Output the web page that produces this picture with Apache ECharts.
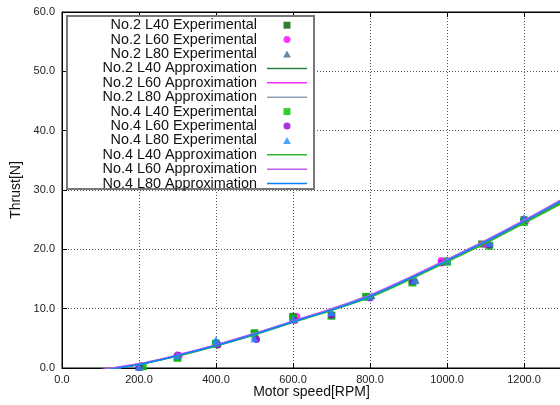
<!DOCTYPE html>
<html lang="en" style="background: #FFFFFF;height: 100%">
	<head>
		<meta charset="utf-8" />
		<title></title>
		<script type="text/javascript" src="https://cdn.jsdelivr.net/npm/echarts@6/dist/echarts.min.js"></script>
	</head>
	<style>
		html,body {
			margin: 0;
			padding: 0;
		}
		body {
			overflow: hidden;
		}
	</style>
	<body style="height: 100%;">
		<div id="chart" style="width: 560px;height: 405px"></div>
		<script>
			// 实验点 [rpm, N]
			var no2L40Exp = [[200,0.2],[300,1.8],[400,4.2],[500,5.9],[600,8.7],[700,8.9],[790,12.0],[910,14.5],[1000,18.0],[1090,20.9],[1200,25.0]];
			var no2L60Exp = [[205,0.1],[305,2.1],[405,3.9],[505,4.9],[610,8.7],[700,8.8],[800,11.8],[915,14.6],[985,18.1],[1100,20.8],[1205,24.8]];
			var no2L80Exp = [[210,0.3],[300,2.0],[400,4.5],[500,5.3],[600,8.3],[700,9.3],[805,12.2],[920,14.8],[1000,18.3],[1110,20.9],[1200,25.2]];
			var no4L40Exp = [[210,0.3],[300,1.7],[400,4.0],[500,5.8],[600,8.4],[700,8.8],[790,12.0],[910,14.4],[1000,17.9],[1110,20.6],[1200,24.6]];
			var no4L60Exp = [[200,0.1],[300,2.2],[405,3.9],[505,4.8],[605,8.0],[700,8.9],[800,11.9],[910,14.6],[985,17.7],[1110,20.7],[1200,24.8]];
			var no4L80Exp = [[200,0.2],[300,2.1],[400,4.7],[500,5.0],[600,8.3],[700,9.4],[800,12.1],[915,14.8],[1000,18.1],[1110,21.1],[1200,25.3]];

			// 近似曲线
			var approxRpm = [100,200,300,400,500,600,700,800,900,1000,1100,1200,1300];
			var no2L40Approx = [-0.4,0.6,2.1,3.8,5.7,7.8,9.8,12.0,14.9,18.0,21.1,24.5,28.0];
			var no2L60Approx = [-0.3,0.7,2.2,3.9,5.8,7.9,9.9,12.2,15.1,18.2,21.4,24.8,28.4];
			var no2L80Approx = [-0.4,0.6,2.0,3.7,5.6,7.7,9.8,12.1,15.0,18.1,21.3,24.7,28.3];
			var no4L40Approx = [-0.4,0.6,2.0,3.7,5.6,7.7,9.7,11.9,14.8,17.9,21.0,24.4,27.8];
			var no4L60Approx = [-0.3,0.7,2.2,3.9,5.8,7.9,10.0,12.3,15.2,18.3,21.5,24.9,28.5];
			var no4L80Approx = [-0.4,0.6,2.1,3.8,5.7,7.8,9.8,12.1,15.0,18.1,21.3,24.7,28.3];

			var xTicks = [0,200,400,600,800,1000,1200];
			var yTicks = [0,10,20,30,40,50,60];

			// 图例图标 (path 保持比例)
			var iconSquare = 'path://M0,0h10v10h-10z';
			var iconCircle = 'path://M5,0A5,5,0,1,1,4.99,0z';
			var iconTriangle = 'path://M5,0L10,9L0,9z';
			var iconLine = 'path://M0,0h40v1.5h-40z';

			function pairs(ys){
				var out = [];
				for(var i = 0 ; i < approxRpm.length;i++){
					out.push([approxRpm[i], ys[i]]);
				}
				return out;
			}

			function expSeries(name, data, symbol, color, size){
				return {
					name: name, type: 'scatter', data: data,
					symbol: symbol, symbolSize: size,
					itemStyle: { color: color }
				};
			}

			function lineSeries(name, ys, color){
				return {
					name: name, type: 'line', data: pairs(ys),
					symbol: 'none', smooth: 0.3, clip: true,
					lineStyle: { color: color, width: 1.5 },
					itemStyle: { color: color }
				};
			}

			var font = 'Liberation Sans, Arial, sans-serif';
			var chart = echarts.init(document.getElementById('chart'));

			chart.setOption({
				animation: false,
				grid: {
					left: 62, top: 12, right: -41, bottom: 37,
					outerBoundsMode: 'none',
					show: true, borderColor: '#000', borderWidth: 1
				},
				legend: {
					orient: 'vertical', align: 'right',
					right: 253, top: 18, padding: 0,
					itemWidth: 40, itemHeight: 7, itemGap: 0,
					textStyle: { fontFamily: font, fontSize: 14.4, color: '#111', lineHeight: 14.4, padding: [0, 5, 0, 0] },
					data: [
						{ name: 'No.2 L40 Experimental', icon: iconSquare },
						{ name: 'No.2 L60 Experimental', icon: iconCircle },
						{ name: 'No.2 L80 Experimental', icon: iconTriangle },
						{ name: 'No.2 L40 Approximation', icon: iconLine },
						{ name: 'No.2 L60 Approximation', icon: iconLine },
						{ name: 'No.2 L80 Approximation', icon: iconLine },
						{ name: 'No.4 L40 Experimental', icon: iconSquare },
						{ name: 'No.4 L60 Experimental', icon: iconCircle },
						{ name: 'No.4 L80 Experimental', icon: iconTriangle },
						{ name: 'No.4 L40 Approximation', icon: iconLine },
						{ name: 'No.4 L60 Approximation', icon: iconLine },
						{ name: 'No.4 L80 Approximation', icon: iconLine }
					]
				},
				graphic: [{
					type: 'rect', z: 3,
					shape: { x: 67, y: 16, width: 247, height: 173 },
					style: { fill: '#fff', stroke: '#777', lineWidth: 2 }
				}],
				xAxis: [{
					type: 'value', min: 0, max: 1400, interval: 200,
					name: 'Motor speed[RPM]', nameLocation: 'middle', nameGap: 17,
					nameMoveOverlap: false,
					nameTextStyle: { fontFamily: font, fontSize: 14, color: '#111', padding: [0, 40, 0, 0] },
					axisLine: { lineStyle: { color: '#000' } },
					axisTick: { inside: true, length: 5, lineStyle: { color: '#000' } },
					axisLabel: {
						fontFamily: font, fontSize: 11, color: '#222', margin: 6,
						formatter: function(v){ return xTicks.indexOf(v) >= 0 ? v.toFixed(1) : ''; }
					},
					splitLine: { lineStyle: { color: '#555', type: [1, 2] } }
				},{
					type: 'value', position: 'top', min: 0, max: 1400, interval: 200,
					axisLine: { lineStyle: { color: '#000' } },
					axisTick: { inside: true, length: 5, lineStyle: { color: '#000' } },
					axisLabel: { show: false },
					splitLine: { show: false }
				}],
				yAxis: {
					type: 'value', min: 0, max: 60, interval: 10,
					name: 'Thrust[N]', nameLocation: 'middle', nameGap: 36,
					nameTextStyle: { fontFamily: font, fontSize: 14, color: '#111' },
					axisLine: { show: true, lineStyle: { color: '#000' } },
					axisTick: { show: true, inside: true, length: 5, lineStyle: { color: '#000' } },
					axisLabel: {
						fontFamily: font, fontSize: 11, color: '#222', margin: 7,
						formatter: function(v){ return yTicks.indexOf(v) >= 0 ? v.toFixed(1) : ''; }
					},
					splitLine: { lineStyle: { color: '#555', type: [1, 2] } }
				},
				series: [
					expSeries('No.2 L40 Experimental', no2L40Exp, 'rect', '#006000', 7),
					expSeries('No.2 L60 Experimental', no2L60Exp, 'circle', '#ff00ff', 7),
					expSeries('No.2 L80 Experimental', no2L80Exp, 'triangle', '#3d6a8c', 7),
					lineSeries('No.2 L40 Approximation', no2L40Approx, '#2f7f3f'),
					lineSeries('No.2 L60 Approximation', no2L60Approx, '#ff2cff'),
					lineSeries('No.2 L80 Approximation', no2L80Approx, '#8aa2b8'),
					expSeries('No.4 L40 Experimental', no4L40Exp, 'rect', '#00c000', 8),
					expSeries('No.4 L60 Experimental', no4L60Exp, 'circle', '#9400d3', 7),
					expSeries('No.4 L80 Experimental', no4L80Exp, 'triangle', '#1e8cff', 8),
					lineSeries('No.4 L40 Approximation', no4L40Approx, '#30b830'),
					lineSeries('No.4 L60 Approximation', no4L60Approx, '#c060e8'),
					lineSeries('No.4 L80 Approximation', no4L80Approx, '#0a80ff')
				]
			});
		</script>
	</body>
</html>
